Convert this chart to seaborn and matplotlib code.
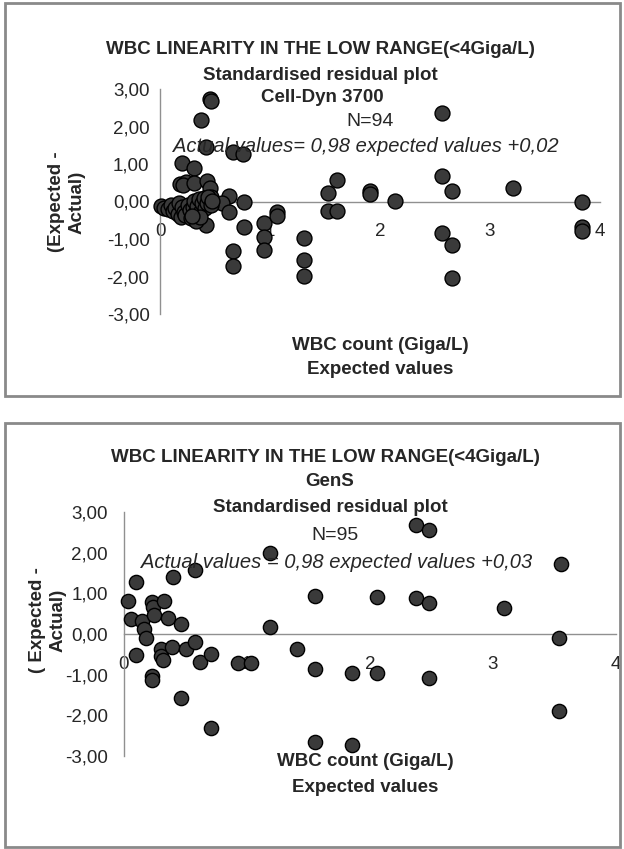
import pandas as pd
import matplotlib.pyplot as plt
import matplotlib.patches as patches
import seaborn as sns

# Cell-Dyn 3700 residuals (expected WBC, standardised residual)
celldyn_x = [0.45, 0.46, 0.375, 0.42, 0.665, 0.75, 0.20, 0.31, 0.18, 0.24, 0.21, 0.31,
             0.43, 0.45, 0.46, 0.63, 0.565, 0.63, 0.76, 0.76, 0.42, 0.665, 0.665,
             0.945, 0.945, 0.945, 1.06, 1.06, 1.31, 1.31, 1.31, 1.53, 1.61, 1.53, 1.61,
             1.91, 1.91, 2.14, 2.56, 2.56, 2.65, 2.56, 2.65, 2.65, 3.21, 3.84, 3.84, 3.84,
             0.01, 0.04, 0.07, 0.10, 0.12, 0.14, 0.16, 0.17, 0.19, 0.20, 0.22, 0.23,
             0.25, 0.27, 0.28, 0.30, 0.31, 0.32, 0.34, 0.35, 0.37, 0.38, 0.40, 0.41,
             0.43, 0.44, 0.46, 0.47, 0.33, 0.36, 0.29]
celldyn_y = [2.72, 2.68, 2.18, 1.46, 1.33, 1.27, 1.04, 0.89, 0.46, 0.53, 0.45, 0.50,
             0.54, 0.35, 0.12, 0.14, -0.05, -0.28, -0.01, -0.68, -0.62, -1.32, -1.73,
             -0.57, -0.95, -1.30, -0.28, -0.39, -0.96, -1.57, -1.98, 0.23, 0.57, -0.25, -0.25,
             0.29, 0.20, 0.01, 2.36, 0.68, 0.28, -0.83, -1.15, -2.04, 0.35, -0.01, -0.68, -0.79,
             -0.13, -0.17, -0.20, -0.10, -0.25, -0.18, -0.32, -0.05, -0.42, -0.14, -0.28, -0.36,
             -0.08, -0.22, -0.45, -0.15, 0.02, -0.30, -0.12, 0.06, -0.25, -0.03, 0.10, -0.18,
             -0.05, 0.12, -0.10, 0.02, -0.52, -0.40, -0.38]

# GenS residuals
gens_x = [0.03, 0.055, 0.10, 0.10, 0.15, 0.16, 0.18, 0.23, 0.235, 0.245, 0.23, 0.23,
          0.30, 0.30, 0.315, 0.325, 0.355, 0.40, 0.39, 0.46, 0.46, 0.50, 0.58, 0.58,
          0.615, 0.705, 0.705, 0.925, 1.03, 1.19, 1.19, 1.41, 1.55, 1.55, 1.55, 1.85,
          1.85, 2.06, 2.06, 2.37, 2.48, 2.37, 2.48, 2.48, 3.09, 3.55, 3.54, 3.54]
gens_y = [0.80, 0.36, 1.29, -0.52, 0.32, 0.12, -0.09, 0.78, 0.66, 0.46, -1.03, -1.13,
          -0.36, -0.55, -0.64, 0.80, 0.40, 1.40, -0.32, 0.24, -1.57, -0.36, 1.58, -0.20,
          -0.68, -0.48, -2.30, -0.72, -0.72, 1.99, 0.18, -0.37, 0.94, -0.85, -2.66, -0.95,
          -2.74, 0.90, -0.95, 2.69, 2.55, 0.88, 0.76, -1.07, 0.64, 1.71, -0.09, -1.90]

x_ticks = [0, 1, 2, 3, 4]
y_ticks = [-3, -2, -1, 0, 1, 2, 3]
y_tick_labels = ["-3,00", "-2,00", "-1,00", "0,00", "1,00", "2,00", "3,00"]

sns.set_style("white")
plt.rcParams["font.family"] = ["Liberation Sans", "DejaVu Sans"]

W, H = 624, 849
fig = plt.figure(figsize=(W / 100, H / 100), dpi=100)


def fx(x):
    return x / W


def fy(y):
    return 1 - y / H


# grey frames around each chart
for top, bottom in [(3, 396), (423, 847)]:
    fig.patches.append(patches.Rectangle((fx(5), fy(bottom)), fx(615), (bottom - top) / H,
                                         transform=fig.transFigure, fill=False,
                                         edgecolor="#8a8a8a", linewidth=2))


def residual_panel(left, right, top, bottom, xs, ys, msize, ypad):
    ax = fig.add_axes([fx(left), fy(bottom), (right - left) / W, (bottom - top) / H])
    df = pd.DataFrame({"expected": xs, "residual": ys})
    sns.scatterplot(data=df, x="expected", y="residual", ax=ax, s=msize,
                    color="#3a3a3a", edgecolor="black", linewidth=1.0, zorder=3,
                    clip_on=False)
    ax.set_xlim(0, 4)
    ax.set_ylim(-3, 3)
    ax.patch.set_alpha(0)
    for side in ["top", "right"]:
        ax.spines[side].set_visible(False)
    ax.spines["bottom"].set_position(("data", 0))
    for side in ["left", "bottom"]:
        ax.spines[side].set_color("#909090")
        ax.spines[side].set_linewidth(1.0)
    ax.set_xticks(x_ticks)
    ax.set_yticks(y_ticks)
    ax.set_yticklabels(y_tick_labels)
    ax.tick_params(axis="x", direction="inout", length=7, width=1, color="#909090",
                   pad=12, labelsize=13.5)
    ax.tick_params(axis="y", direction="inout", length=7, width=1, color="#909090",
                   pad=ypad, labelsize=13.5)
    ax.set_xlabel("")
    ax.set_ylabel("")
    return ax


residual_panel(160, 600, 89, 314, celldyn_x, celldyn_y, 115, 4)
residual_panel(124, 616, 512, 756, gens_x, gens_y, 105, 8)

bold = dict(fontweight="bold", fontsize=13.5, ha="center", va="center")
ital = dict(fontsize=14.5, style="italic", ha="center", va="center")

# top chart texts
fig.text(fx(320), fy(50), "WBC LINEARITY IN THE LOW RANGE(<4Giga/L)", **bold)
fig.text(fx(320), fy(75), "Standardised residual plot", **bold)
fig.text(fx(322), fy(98), "Cell-Dyn 3700", **bold)
fig.text(fx(370), fy(121), "N=94", fontsize=14, ha="center", va="center")
fig.text(fx(366), fy(146), "Actual values= 0,98 expected values +0,02", **ital)
fig.text(fx(67), fy(202), "(Expected -\nActual)", rotation=90, multialignment="center",
         linespacing=1.25, **bold)
fig.text(fx(380), fy(345), "WBC count (Giga/L)", **bold)
fig.text(fx(380), fy(370), "Expected values", **bold)

# bottom chart texts
fig.text(fx(325), fy(457), "WBC LINEARITY IN THE LOW RANGE(<4Giga/L)", **bold)
fig.text(fx(330), fy(481), "GenS", **bold)
fig.text(fx(330), fy(507), "Standardised residual plot", **bold)
fig.text(fx(335), fy(536), "N=95", fontsize=14, ha="center", va="center")
fig.text(fx(337), fy(563), "Actual values = 0,98 expected values +0,03", **ital)
fig.text(fx(48), fy(620), "( Expected -\nActual)", rotation=90, multialignment="center",
         linespacing=1.25, **bold)
fig.text(fx(365), fy(762), "WBC count (Giga/L)", **bold)
fig.text(fx(365), fy(787), "Expected values", **bold)

fig.savefig("out.png", dpi=100)
